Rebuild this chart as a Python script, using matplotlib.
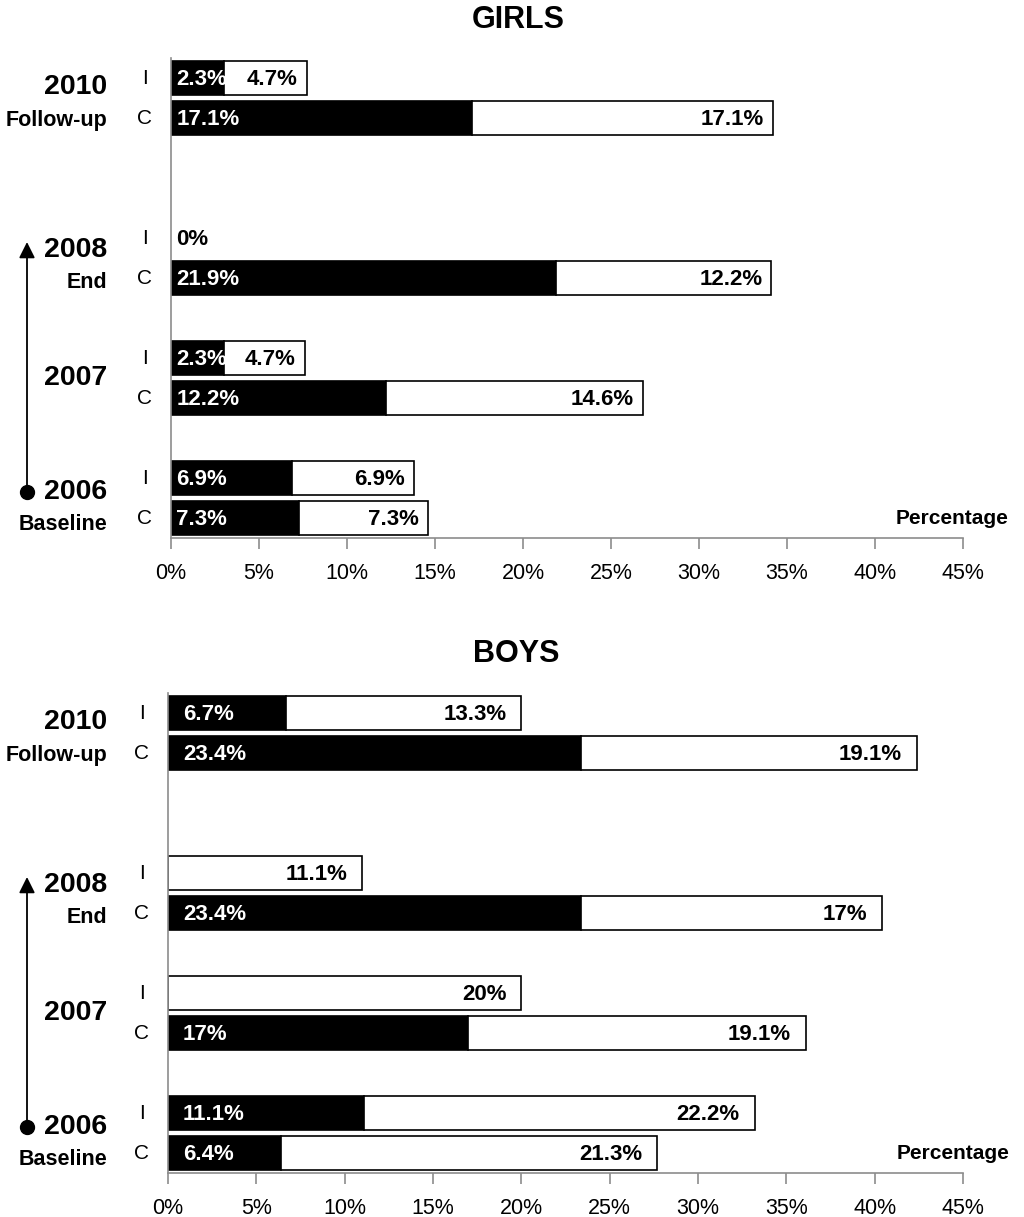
import matplotlib
matplotlib.use("Agg")
import matplotlib.pyplot as plt
from matplotlib.transforms import blended_transform_factory

plt.rcParams['font.family'] = ['Liberation Sans Narrow', 'Liberation Sans', 'DejaVu Sans']

# bar order: 2006, 2007, 2008, 2010
years = ['2006', '2007', '2008', '2010']
subtitles = ['Baseline', '', 'End', 'Follow-up']
pos_c = [0, 3, 6, 10]
pos_i = [1, 4, 7, 11]

# GIRLS (drawn lengths, labels as printed)
girls_i_black = [6.9, 3.0, 0.0, 3.0]
girls_i_white = [6.9, 4.6, 0.0, 4.7]
girls_c_black = [7.3, 12.2, 21.9, 17.1]
girls_c_white = [7.3, 14.6, 12.2, 17.1]
girls_i_black_lbl = ['6.9%', '2.3%', '0%', '2.3%']
girls_i_white_lbl = ['6.9%', '4.7%', '', '4.7%']
girls_c_black_lbl = ['7.3%', '12.2%', '21.9%', '17.1%']
girls_c_white_lbl = ['7.3%', '14.6%', '12.2%', '17.1%']

# BOYS
boys_i_black = [11.1, 0.0, 0.0, 6.7]
boys_i_white = [22.1, 20.0, 11.0, 13.3]
boys_c_black = [6.4, 17.0, 23.4, 23.4]
boys_c_white = [21.3, 19.1, 17.0, 19.0]
boys_i_black_lbl = ['11.1%', '', '', '6.7%']
boys_i_white_lbl = ['22.2%', '20%', '11.1%', '13.3%']
boys_c_black_lbl = ['6.4%', '17%', '23.4%', '23.4%']
boys_c_white_lbl = ['21.3%', '19.1%', '17%', '19.1%']

xticks = [0, 5, 10, 15, 20, 25, 30, 35, 40, 45]


def draw_panel(ax, i_black, i_white, c_black, c_white,
               i_bl, i_wl, c_bl, c_wl, pad_l, pad_r, year_x, arrow_x):
    h = 0.85
    for pos, blk, wht, bl, wl in [(pos_i, i_black, i_white, i_bl, i_wl),
                                  (pos_c, c_black, c_white, c_bl, c_wl)]:
        for y, b, w, tb, tw in zip(pos, blk, wht, bl, wl):
            if b > 0:
                ax.barh(y, b, height=h, color='black', edgecolor='black', linewidth=1.2)
            if w > 0:
                ax.barh(y, w, left=b, height=h, color='white', edgecolor='black', linewidth=1.2)
            if tb:
                col = 'white' if b > 0 else 'black'
                ax.text(pad_l, y - 0.03, tb, color=col, fontsize=16, fontweight='bold',
                        ha='left', va='center')
            if tw:
                ax.text(b + w - pad_r, y - 0.03, tw, color='black', fontsize=16,
                        fontweight='bold', ha='right', va='center')

    ax.set_xlim(0, 45)
    ax.set_ylim(-0.5, 11.5)
    ax.set_xticks(xticks)
    ax.set_xticklabels([f'{t}%' for t in xticks], fontsize=15.5)
    ax.tick_params(axis='x', direction='out', length=8, width=1.2, color='#8c8c8c', pad=10)
    ax.set_yticks([])
    for s in ['top', 'right']:
        ax.spines[s].set_visible(False)
    for s in ['left', 'bottom']:
        ax.spines[s].set_color('#8c8c8c')
        ax.spines[s].set_linewidth(1.2)

    # I / C group labels
    for y in pos_i:
        ax.text(-1.5, y, 'I', fontsize=15, ha='center', va='center', clip_on=False)
    for y in pos_c:
        ax.text(-1.5, y, 'C', fontsize=15, ha='center', va='center', clip_on=False)

    ax.text(47.6, 0, 'Percentage', fontsize=15, fontweight='bold',
            ha='right', va='center', clip_on=False)

    trans = blended_transform_factory(ax.figure.transFigure, ax.transData)
    year_y = [0.65, 3.5, 6.7, 10.78]
    sub_y = [-0.15, None, 5.9, 9.95]
    for yr, sub, yy, sy in zip(years, subtitles, year_y, sub_y):
        ax.text(year_x, yy, yr, transform=trans, fontsize=20.5, fontweight='bold',
                ha='right', va='center')
        if sub:
            ax.text(year_x, sy, sub, transform=trans, fontsize=15.5, fontweight='bold',
                    ha='right', va='center')

    # timeline arrow 2006 -> 2008
    ax.annotate('', xy=(arrow_x, 6.9), xytext=(arrow_x, 0.65),
                xycoords=trans, textcoords=trans,
                arrowprops=dict(arrowstyle='-|>', color='black', lw=1.3,
                                mutation_scale=24, shrinkA=0, shrinkB=0))
    ax.plot([arrow_x], [0.65], 'o', color='black', markersize=10,
            transform=trans, clip_on=False)


fig = plt.figure(figsize=(10.24, 12.17), dpi=100)
ax1 = fig.add_axes([0.167, 0.5579, 0.7734, 0.3944])
ax2 = fig.add_axes([0.1641, 0.03615, 0.7764, 0.3944])

draw_panel(ax1, girls_i_black, girls_i_white, girls_c_black, girls_c_white,
           girls_i_black_lbl, girls_i_white_lbl, girls_c_black_lbl, girls_c_white_lbl,
           pad_l=0.3, pad_r=0.5, year_x=107 / 1024, arrow_x=27 / 1024)
draw_panel(ax2, boys_i_black, boys_i_white, boys_c_black, boys_c_white,
           boys_i_black_lbl, boys_i_white_lbl, boys_c_black_lbl, boys_c_white_lbl,
           pad_l=0.85, pad_r=0.85, year_x=107 / 1024, arrow_x=27 / 1024)

fig.text(518 / 1024, 1 - 20 / 1217, 'GIRLS', fontsize=22, fontweight='bold',
         ha='center', va='center')
fig.text(516 / 1024, 1 - 654 / 1217, 'BOYS', fontsize=22, fontweight='bold',
         ha='center', va='center')

fig.savefig('out.png', dpi=100, facecolor='white')
